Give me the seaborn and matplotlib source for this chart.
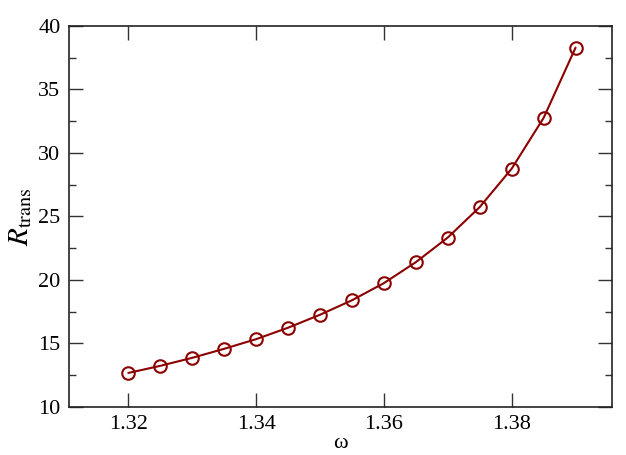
import matplotlib
matplotlib.use('Agg')
import pandas as pd
import matplotlib.pyplot as plt
import seaborn as sns
from matplotlib.ticker import MultipleLocator

omega = [1.320, 1.325, 1.330, 1.335, 1.340, 1.345, 1.350, 1.355,
         1.360, 1.365, 1.370, 1.375, 1.380, 1.385, 1.390]
r_trans = [12.68, 13.24, 13.87, 14.58, 15.34, 16.24, 17.26, 18.40,
           19.75, 21.40, 23.34, 25.74, 28.76, 32.76, 38.29]
x_ticks = [1.32, 1.34, 1.36, 1.38]
y_ticks = [10, 15, 20, 25, 30, 35, 40]


def main():
    sns.set_style('ticks')
    plt.rcParams['font.family'] = ['Liberation Serif', 'DejaVu Serif']
    plt.rcParams['mathtext.fontset'] = 'stix'
    plt.rcParams['text.color'] = 'black'
    plt.rcParams['axes.labelcolor'] = 'black'
    plt.rcParams['xtick.labelcolor'] = 'black'
    plt.rcParams['ytick.labelcolor'] = 'black'

    df = pd.DataFrame({'omega': omega, 'r': r_trans})

    fig = plt.figure(figsize=(6.26, 4.55), dpi=100)
    ax = fig.add_axes([0.110, 0.1055, 0.8676, 0.8375])
    sns.lineplot(data=df, x='omega', y='r', ax=ax, color='#8b0000',
                 linewidth=1.5, marker='o', markersize=9,
                 markerfacecolor='none', markeredgecolor='#8b0000',
                 markeredgewidth=1.5)

    ax.set_xlim(1.3107, 1.3957)
    ax.set_ylim(10, 40)
    ax.set_xticks(x_ticks)
    ax.set_xticklabels([f'{t:.2f}' for t in x_ticks])
    ax.set_yticks(y_ticks)
    ax.yaxis.set_minor_locator(MultipleLocator(2.5))
    ax.tick_params(which='major', direction='in', length=10, width=1,
                   top=True, right=True, labelsize=16, color='#333333',
                   pad=6)
    ax.tick_params(which='minor', direction='in', length=5, width=1,
                   top=False, right=True, left=True, color='#333333')
    for s in ax.spines.values():
        s.set_linewidth(1.2)
        s.set_color('#222222')

    ax.set_xlabel('ω', fontsize=16, labelpad=0)
    ax.set_ylabel(r'$R_{\mathrm{trans}}$', fontsize=21, labelpad=3)

    fig.savefig('out.png', dpi=100)


if __name__ == '__main__':
    main()
